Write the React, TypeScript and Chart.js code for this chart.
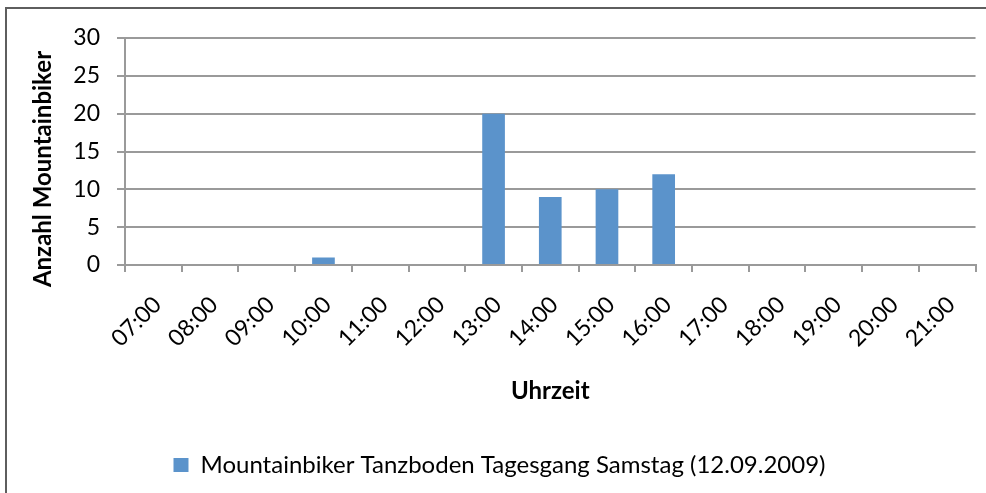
import React, { useEffect, useRef } from "react";
import { Chart, registerables } from "chart.js";

Chart.register(...registerables);

const categories = [
  "07:00", "08:00", "09:00", "10:00", "11:00", "12:00", "13:00",
  "14:00", "15:00", "16:00", "17:00", "18:00", "19:00", "20:00", "21:00",
];
const mountainbikerValues = [0, 0, 0, 1, 0, 0, 20, 9, 10, 12, 0, 0, 0, 0, 0];
const yTickValues = [0, 5, 10, 15, 20, 25, 30];
const seriesLabel = "Mountainbiker Tanzboden Tagesgang Samstag (12.09.2009)";
const xAxisTitle = "Uhrzeit";
const yAxisTitle = "Anzahl Mountainbiker";

const FONT = "Lato, 'Open Sans', sans-serif";

export default function App() {
  const canvasRef = useRef<HTMLCanvasElement | null>(null);

  useEffect(() => {
    const canvas = canvasRef.current;
    if (!canvas) return;
    const chart = new Chart(canvas, {
      type: "bar",
      data: {
        labels: categories,
        datasets: [
          {
            label: seriesLabel,
            data: mountainbikerValues,
            backgroundColor: "#5b93cb",
            borderWidth: 0,
            barPercentage: 0.4,
            categoryPercentage: 1,
          },
        ],
      },
      options: {
        responsive: false,
        animation: false,
        layout: { padding: { left: 22, top: 38, right: 9, bottom: 6 } },
        plugins: {
          tooltip: { enabled: false },
          legend: {
            position: "bottom",
            labels: {
              boxWidth: 15,
              boxHeight: 14,
              padding: 4,
              color: "#000",
              font: { family: FONT, size: 24 },
            },
          },
        },
        scales: {
          x: {
            offset: true,
            grid: {
              offset: true,
              drawOnChartArea: false,
              drawTicks: true,
              tickLength: 7,
              color: "#9a9a9a",
              lineWidth: 2,
            },
            border: { display: true, color: "#9a9a9a", width: 2 },
            ticks: {
              autoSkip: false,
              maxRotation: 45,
              minRotation: 45,
              color: "#000",
              padding: 19,
              labelOffset: 4,
              font: { family: FONT, size: 23 },
            },
            title: {
              display: true,
              text: xAxisTitle,
              color: "#000",
              font: { family: FONT, size: 24, weight: "bold" },
              padding: { top: 0, bottom: 43 },
            },
            afterFit: (s: any) => {
              s.height = 184;
            },
          },
          y: {
            min: 0,
            max: 30,
            afterBuildTicks: (s: any) => {
              s.ticks = yTickValues.map((v) => ({ value: v }));
            },
            grid: {
              color: "#9a9a9a",
              lineWidth: 2,
              tickLength: 8,
            },
            border: { display: true, color: "#9a9a9a", width: 2 },
            ticks: {
              color: "#000",
              padding: 17,
              font: { family: FONT, size: 23 },
            },
            title: {
              display: true,
              text: yAxisTitle + "      ",
              color: "#000",
              font: { family: FONT, size: 24, weight: "bold" },
              padding: { top: 7, bottom: 0 },
            },
            afterFit: (s: any) => {
              s.width = 103;
            },
          },
        },
      },
    });
    return () => chart.destroy();
  }, []);

  return (
    <div style={{ position: "fixed", left: 0, top: 0, width: 986, height: 493, background: "#fff", overflow: "hidden" }}>
      <div
        style={{
          position: "absolute",
          left: 5,
          top: 7,
          width: 1000,
          height: 500,
          borderLeft: "2px solid #5e5e5e",
          borderTop: "2px solid #5e5e5e",
        }}
      />
      <canvas ref={canvasRef} width={986} height={493} style={{ position: "absolute", left: 0, top: 0 }} />
    </div>
  );
}
